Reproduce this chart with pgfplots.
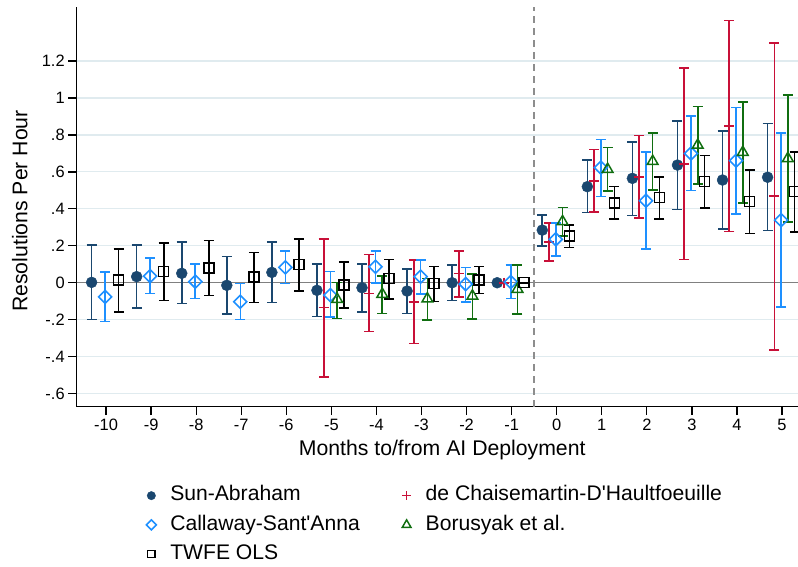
\documentclass[border=0pt]{standalone}
\usepackage{fontspec}
\setmainfont{Liberation Sans}
\usepackage{pgfplots}
\usepackage{pgfplotstable}
\pgfplotsset{compat=1.18}

\definecolor{saNavy}{RGB}{26,71,111}
\definecolor{dcRed}{RGB}{200,16,56}
\definecolor{csBlue}{RGB}{30,144,255}
\definecolor{bjsGreen}{RGB}{16,110,16}
\definecolor{gridBlue}{RGB}{224,235,239}
\definecolor{refGray}{RGB}{128,128,128}

% event-time estimates: m = month, b = point estimate, lo/hi = 95% CI
\pgfplotstableread{
m    b       lo      hi
-10  0.002  -0.198   0.204
-9   0.033  -0.137   0.204
-8   0.051  -0.113   0.219
-7  -0.014  -0.168   0.141
-6   0.056  -0.106   0.222
-5  -0.041  -0.182   0.101
-4  -0.027  -0.157   0.100
-3  -0.045  -0.166   0.074
-2   0.000  -0.097   0.096
-1   0.000   0.000   0.000
0    0.285   0.200   0.367
1    0.520   0.381   0.663
2    0.565   0.365   0.763
3    0.637   0.397   0.875
4    0.556   0.291   0.821
5    0.571   0.282   0.863
}\saTab

\pgfplotstableread{
m    b       lo      hi
-5  -0.135  -0.511   0.237
-4  -0.058  -0.265   0.152
-3  -0.103  -0.328   0.123
-2   0.051  -0.076   0.172
-1   0.000   0.000   0.000
0    0.219   0.119   0.322
1    0.551   0.383   0.722
2    0.574   0.352   0.796
3    0.643   0.125   1.161
4    0.848   0.278   1.419
5    0.468  -0.363   1.298
}\dcTab

\pgfplotstableread{
m    b       lo      hi
-10 -0.076  -0.209   0.058
-9   0.036  -0.058   0.134
-8   0.006  -0.086   0.100
-7  -0.103  -0.200  -0.004
-6   0.083  -0.005   0.172
-5  -0.067  -0.187   0.060
-4   0.087   0.000   0.173
-3   0.033  -0.061   0.123
-2  -0.007  -0.103   0.083
-1   0.004  -0.085   0.096
0    0.235   0.146   0.325
1    0.623   0.466   0.776
2    0.444   0.184   0.709
3    0.700   0.500   0.902
4    0.661   0.372   0.948
5    0.339  -0.130   0.809
}\csTab

\pgfplotstableread{
m    b       lo      hi
-5  -0.090  -0.193   0.002
-4  -0.062  -0.166   0.036
-3  -0.087  -0.202   0.024
-2  -0.072  -0.197   0.047
-1  -0.035  -0.170   0.096
0    0.331   0.254   0.408
1    0.614   0.498   0.731
2    0.657   0.502   0.812
3    0.745   0.536   0.953
4    0.706   0.433   0.978
5    0.673   0.330   1.016
}\bjsTab

\pgfplotstableread{
m    b       lo      hi
-10  0.015  -0.159   0.184
-9   0.060  -0.097   0.215
-8   0.081  -0.068   0.229
-7   0.031  -0.108   0.164
-6   0.100  -0.045   0.238
-5  -0.011  -0.137   0.112
-4   0.022  -0.088   0.125
-3  -0.004  -0.101   0.087
-2   0.015  -0.058   0.087
-1   0.000   0.000   0.000
0    0.253   0.190   0.314
1    0.433   0.345   0.520
2    0.462   0.345   0.574
3    0.547   0.403   0.688
4    0.439   0.267   0.610
5    0.493   0.276   0.709
}\twfeTab

\pgfplotsset{
  every error bar/.append style={line width=1.6bp},
  cis/.style={only marks,
    error bars/y dir=both, error bars/y explicit,
    error bars/error bar style={line width=1.6bp},
    error bars/error mark options={rotate=90, mark size=5bp, line width=1.6bp}},
}

\begin{document}
\begin{tikzpicture}
\begin{axis}[
    scale only axis,
    width=731bp, height=399.4bp,
    xmin=-10.651, xmax=5.57,
    ymin=-0.671, ymax=1.491,
    axis x line*=bottom, axis y line*=left,
    axis line style={line width=1.3bp, black},
    tick align=outside, major tick length=8.5bp,
    tick style={line width=1.3bp, black},
    xtick={-10,-9,-8,-7,-6,-5,-4,-3,-2,-1,0,1,2,3,4,5},
    xticklabels={-10,-9,-8,-7,-6,-5,-4,-3,-2,-1,0,1,2,3,4,5},
    ytick={-0.6,-0.4,-0.2,0,0.2,0.4,0.6,0.8,1,1.2},
    yticklabels={-.6,-.4,-.2,0,.2,.4,.6,.8,1,1.2},
    ymajorgrids, grid style={gridBlue, line width=1.2bp},
    ticklabel style={font=\fontsize{16.5}{18}\selectfont},
    label style={font=\fontsize{21.3}{24}\selectfont},
    xlabel={Months to/from AI Deployment},
    ylabel={Resolutions Per Hour},
    xlabel style={at={([yshift=-49bp]axis description cs:0.5,0)}, anchor=base},
    ylabel style={at={([xshift=-49.2bp]axis description cs:0,0.49)}, anchor=base},
    legend columns=2, legend cell align=left,
    legend image code/.code={\path (-6bp,0bp) (6bp,0bp); \draw[#1] plot coordinates {(0bp,0bp)};},
    legend style={at={(0,0)}, anchor=north west, xshift=68bp, yshift=-79.2bp,
      draw=none, fill=none, inner sep=0pt, outer sep=0pt,
      font=\fontsize{21.2}{24}\selectfont, row sep=9.7bp,
      nodes={inner sep=0pt, text height=15bp, text depth=4.5bp},
      /tikz/every odd column/.append style={column sep=12.3bp},
      /tikz/every even column/.append style={column sep=40bp}},
]

% reference lines
\draw[refGray, line width=1.5bp] (axis cs:-10.651,0) -- (axis cs:5.57,0);
\draw[refGray!90, line width=1.5bp, dash pattern=on 7bp off 5bp] (axis cs:-0.5,-0.671) -- (axis cs:-0.5,1.491);

% --- Sun-Abraham ---
\addplot[saNavy, mark=*, mark size=5.5bp, legend image post style={mark size=4.2bp}, cis]
  table[x expr=\thisrow{m}-0.32, y=b, y error plus expr=\thisrow{hi}-\thisrow{b}, y error minus expr=\thisrow{b}-\thisrow{lo}] {\saTab};
\addlegendentry{Sun-Abraham}

% --- de Chaisemartin-D'Haultfoeuille ---
\addplot[dcRed, mark=+, mark size=5bp, mark options={line width=1.6bp}, legend image post style={mark size=4.5bp, line width=1.6bp}, cis]
  table[x expr=\thisrow{m}-0.17, y=b, y error plus expr=\thisrow{hi}-\thisrow{b}, y error minus expr=\thisrow{b}-\thisrow{lo}] {\dcTab};
\addlegendentry{de Chaisemartin-D\textquotesingle Haultfoeuille}

% --- Callaway-Sant'Anna ---
\addplot[csBlue, mark=square, mark size=4.6bp, mark options={rotate=45, fill=white, line width=1.6bp}, legend image post style={mark size=3.5bp, line width=1.3bp}, cis]
  table[x expr=\thisrow{m}-0.02, y=b, y error plus expr=\thisrow{hi}-\thisrow{b}, y error minus expr=\thisrow{b}-\thisrow{lo}] {\csTab};
\addlegendentry{Callaway-Sant\textquotesingle Anna}

% --- Borusyak et al. ---
\addplot[bjsGreen, mark=triangle, mark size=6.2bp, mark options={fill=white, line width=1.5bp}, legend image post style={mark size=5bp, line width=1.2bp}, cis]
  table[x expr=\thisrow{m}+0.13, y=b, y error plus expr=\thisrow{hi}-\thisrow{b}, y error minus expr=\thisrow{b}-\thisrow{lo}] {\bjsTab};
\addlegendentry{Borusyak et al.}

% --- TWFE OLS ---
\addplot[black, mark=square, mark size=5bp, mark options={fill=white, line width=1.5bp}, legend image post style={mark size=3.6bp, line width=1.2bp}, cis]
  table[x expr=\thisrow{m}+0.28, y=b, y error plus expr=\thisrow{hi}-\thisrow{b}, y error minus expr=\thisrow{b}-\thisrow{lo}] {\twfeTab};
\addlegendentry{TWFE OLS}

\end{axis}
\pgfresetboundingbox
\useasboundingbox (-76.7bp,-160.3bp) rectangle (721.3bp,406.7bp);
\end{tikzpicture}
\end{document}
